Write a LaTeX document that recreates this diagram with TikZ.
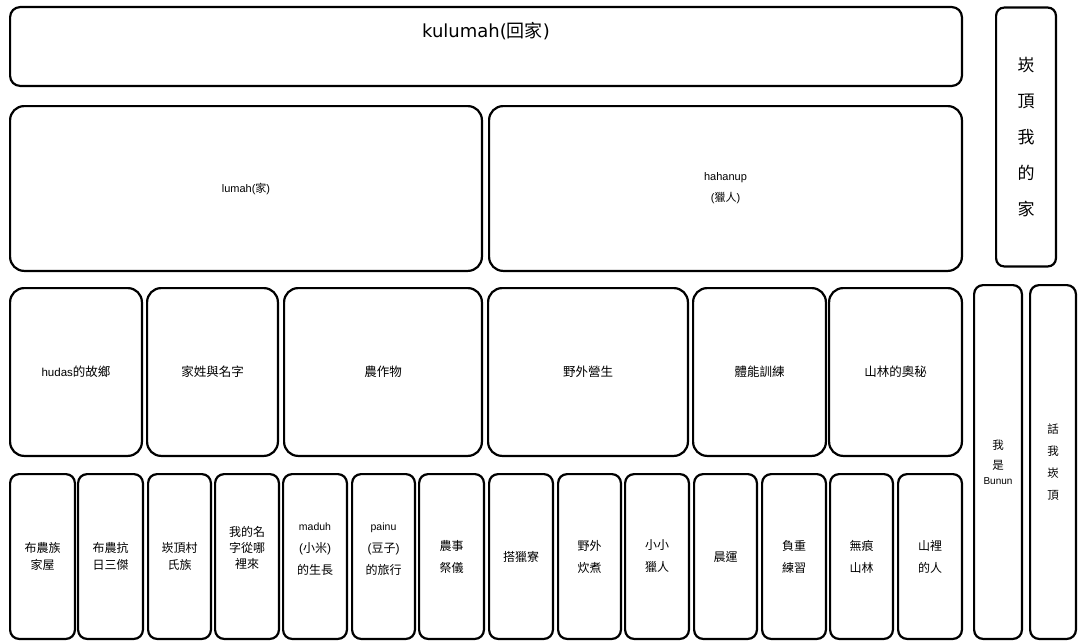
\documentclass[tikz,border=0pt]{standalone}
\usepackage{fontspec}
\setmainfont{Liberation Sans}
\newfontfamily\zh{Noto Sans CJK TC}
\newfontfamily\dv{DejaVu Sans}
\newcommand\Z[1]{{\zh #1}}
\begin{document}
\begin{tikzpicture}[x=1pt,y=-1pt,
  box/.style={draw, line width=2.2pt, rounded corners=9pt, inner sep=0pt, align=center,
    font=\fontsize{12}{17}\selectfont},
  big/.style={box, rounded corners=14pt},
  tall/.style={box, font=\fontsize{12}{22}\selectfont}]
\useasboundingbox (0,0) rectangle (1078,642);
% top
\node[box, rounded corners=10pt, minimum width=951.8pt, minimum height=78.8pt] (top) at (486,46.5) {};
\node[font=\dv\fontsize{18}{20}\selectfont, inner sep=0pt] (toptxt) at (486,31) {kulumah(\Z{回家})};
\node[box, rounded corners=8pt, minimum width=59.8pt, minimum height=258.8pt, font=\fontsize{17}{36}\selectfont] (home) at (1026,137) {\Z{崁}\\\Z{頂}\\\Z{我}\\\Z{的}\\\Z{家}};
% row 2
\node[big, minimum width=471.8pt, minimum height=164.8pt, font=\fontsize{11}{21}\selectfont] (lumah) at (246,188.5) {lumah(\Z{家})};
\node[big, minimum width=472.8pt, minimum height=164.8pt, font=\fontsize{11}{21}\selectfont] (hahanup) at (725.5,188.5) {hahanup\\(\Z{獵人})};
% row 3
\tikzset{r3/.style={big, minimum height=167.8pt, font=\fontsize{12.5}{17}\selectfont}}
\node[r3, minimum width=131.8pt] (hudas) at (76,372) {{\fontsize{11.5}{17}\selectfont hudas}\Z{的故鄉}};
\node[r3, minimum width=130.8pt] (jx) at (212.5,372) {\Z{家姓與名字}};
\node[r3, minimum width=197.8pt] (nzw) at (383,372) {\Z{農作物}};
\node[r3, minimum width=199.8pt] (ywys) at (588,372) {\Z{野外營生}};
\node[r3, minimum width=132.8pt] (tn) at (759.5,372) {\Z{體能訓練}};
\node[r3, minimum width=132.8pt] (sl) at (895.5,372) {\Z{山林的奧秘}};
% row 4
\tikzset{r4/.style={box, minimum height=164.8pt}}
\node[r4, minimum width=64.8pt] (b1) at (42.5,556.5) {\Z{布農族}\\\Z{家屋}};
\node[r4, minimum width=64.8pt] (b2) at (110.5,556.5) {\Z{布農抗}\\\Z{日三傑}};
\node[r4, minimum width=62.8pt] (b3) at (179.5,556.5) {\Z{崁頂村}\\\Z{氏族}};
\node[r4, minimum width=63.8pt, font=\fontsize{12}{16}\selectfont] (b4) at (247,556.5) {\Z{我的名}\\\Z{字從哪}\\\Z{裡來}\\[2pt]};
\node[r4, tall, minimum width=63.8pt] (b5) at (315,556.5) {{\fontsize{10.5}{22}\selectfont maduh}\\(\Z{小米})\\\Z{的生長}\\[-6pt]};
\node[r4, tall, minimum width=62.8pt] (b6) at (383.5,556.5) {{\fontsize{10.5}{22}\selectfont painu}\\(\Z{豆子})\\\Z{的旅行}\\[-6pt]};
\node[r4, tall, minimum width=64.8pt] (b7) at (451.5,556.5) {\Z{農事}\\\Z{祭儀}};
\node[r4, minimum width=63.8pt] (b8) at (521,556.5) {\Z{搭獵寮}};
\node[r4, tall, minimum width=62.8pt] (b9) at (589.5,556.5) {\Z{野外}\\\Z{炊煮}};
\node[r4, tall, minimum width=63.8pt] (b10) at (657,556.5) {\Z{小小}\\\Z{獵人}};
\node[r4, minimum width=62.8pt] (b11) at (725.5,556.5) {\Z{晨運}};
\node[r4, tall, minimum width=63.8pt] (b12) at (794,556.5) {\Z{負重}\\\Z{練習}};
\node[r4, tall, minimum width=62.8pt] (b13) at (861.5,556.5) {\Z{無痕}\\\Z{山林}};
\node[r4, tall, minimum width=63.8pt] (b14) at (930,556.5) {\Z{山裡}\\\Z{的人}};
% right column
\node[box, minimum width=47.8pt, minimum height=353.8pt, font=\fontsize{11.5}{20}\selectfont] (bunun) at (998,462) {\Z{我}\\\Z{是}\\[-5pt]{\fontsize{10}{12}\selectfont Bunun}};
\node[box, minimum width=45.8pt, minimum height=353.8pt, font=\fontsize{11.5}{22}\selectfont] (hua) at (1053,462) {\Z{話}\\\Z{我}\\\Z{崁}\\\Z{頂}};
\end{tikzpicture}
\end{document}
